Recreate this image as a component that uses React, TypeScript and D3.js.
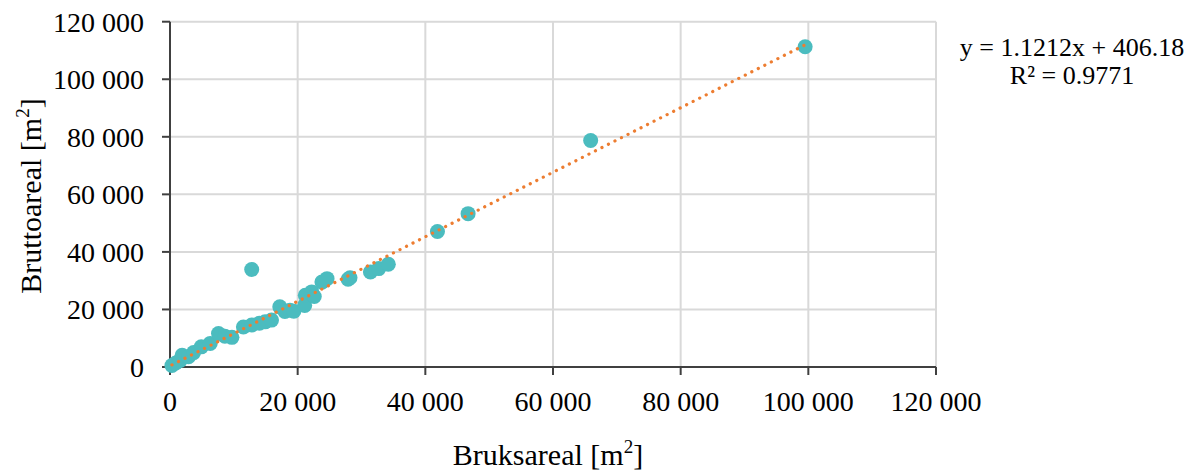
import React from "react";
import * as d3 from "d3";

// Bruksareal (x) vs Bruttoareal (y), m2
const bruksareal = [
  300, 900, 1600, 1900, 2900, 3700, 4900, 6300, 7600, 8600, 9700, 11500,
  12800, 12800, 14000, 14900, 15900, 17200, 18000, 18800, 19400, 21100,
  21200, 22200, 22600, 23800, 24600, 27900, 28200, 31400, 32700, 34200,
  41900, 46700, 65900, 99500,
];
const bruttoareal = [
  500, 1400, 2300, 4100, 3600, 5000, 7000, 8200, 11600, 10700, 10300, 13900,
  14600, 33900, 15200, 15700, 16300, 20900, 19300, 19700, 19400, 21400,
  24900, 26100, 24500, 29500, 30700, 30500, 31000, 33000, 34200, 35700,
  47100, 53300, 78700, 111300,
];
const xTicks = [0, 20000, 40000, 60000, 80000, 100000, 120000];
const yTicks = [0, 20000, 40000, 60000, 80000, 100000, 120000];
const slope = 1.1212;
const intercept = 406.18;
const equationLines = ["y = 1.1212x + 406.18", "R² = 0.9771"];

const W = 1204;
const H = 471;
const font = "'Liberation Serif', 'Times New Roman', serif";

const fmt = d3
  .formatLocale({ decimal: ".", thousands: " ", grouping: [3], currency: ["", ""] })
  .format(",d");

export default function App() {
  const x = d3.scaleLinear().domain([0, 120000]).range([170, 936]);
  const y = d3.scaleLinear().domain([0, 120000]).range([367, 21.7]);

  const points = bruksareal.map((b, i) => ({ x: b, y: bruttoareal[i] }));
  const xMin = d3.min(bruksareal) as number;
  const xMax = d3.max(bruksareal) as number;
  const trend = d3
    .line<number>()
    .x((d) => x(d))
    .y((d) => y(slope * d + intercept));

  const axisColor = "#404040";
  const gridColor = "#d9d9d9";

  return (
    <svg
      width={W}
      height={H}
      style={{ position: "absolute", left: 0, top: 0, background: "#fff" }}
      fontFamily={font}
    >
      {/* grid */}
      {yTicks.slice(1).map((t) => (
        <line key={"gy" + t} x1={x(0)} x2={x(120000)} y1={y(t)} y2={y(t)} stroke={gridColor} strokeWidth={2} />
      ))}
      {xTicks.slice(1).map((t) => (
        <line key={"gx" + t} x1={x(t)} x2={x(t)} y1={y(0)} y2={y(120000)} stroke={gridColor} strokeWidth={2} />
      ))}

      {/* axes */}
      <line x1={x(0)} x2={x(120000)} y1={y(0)} y2={y(0)} stroke={axisColor} strokeWidth={2} />
      <line x1={x(0)} x2={x(0)} y1={y(0)} y2={y(120000)} stroke={axisColor} strokeWidth={2} />
      {yTicks.map((t) => (
        <g key={"ty" + t}>
          <line x1={x(0) - 8} x2={x(0)} y1={y(t)} y2={y(t)} stroke={axisColor} strokeWidth={2} />
          <text x={144} y={y(t)} dy="0.35em" textAnchor="end" fontSize={28} fill="#000">
            {fmt(t)}
          </text>
        </g>
      ))}
      {xTicks.map((t) => (
        <g key={"tx" + t}>
          <line x1={x(t)} x2={x(t)} y1={y(0)} y2={y(0) + 8} stroke={axisColor} strokeWidth={2} />
          <text x={x(t)} y={411} textAnchor="middle" fontSize={28} fill="#000">
            {fmt(t)}
          </text>
        </g>
      ))}

      {/* points */}
      {points.map((p, i) => (
        <circle key={i} cx={x(p.x)} cy={y(p.y)} r={7.5} fill="#4bbcbf" />
      ))}

      {/* trendline */}
      <path
        d={trend([xMin, xMax]) || ""}
        fill="none"
        stroke="#ed7d31"
        strokeWidth={3.2}
        strokeLinecap="round"
        strokeDasharray="0.1 7.2"
      />

      {/* equation */}
      {equationLines.map((l, i) => (
        <text key={l} x={1072} y={56 + i * 28} textAnchor="middle" fontSize={26} fill="#000">
          {l}
        </text>
      ))}

      {/* axis titles */}
      <text x={548} y={465} textAnchor="middle" fontSize={30} fill="#000">
        Bruksareal [m
        <tspan dy={-12} fontSize={19}>2</tspan>
        <tspan dy={12}>]</tspan>
      </text>
      <text transform="translate(41,196) rotate(-90)" textAnchor="middle" fontSize={30} fill="#000">
        Bruttoareal [m
        <tspan dy={-12} fontSize={19}>2</tspan>
        <tspan dy={12}>]</tspan>
      </text>
    </svg>
  );
}
